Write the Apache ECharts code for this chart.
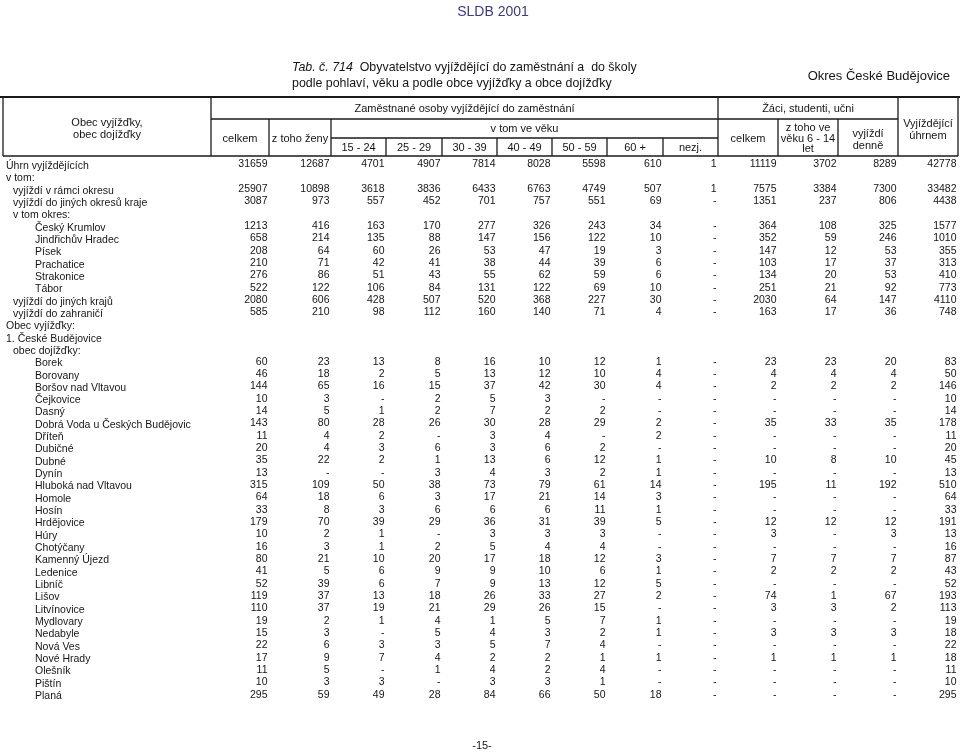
<!DOCTYPE html>
<html><head><meta charset="utf-8">
<script src="https://cdn.jsdelivr.net/npm/echarts@6/dist/echarts.min.js"></script>
<style>html,body{margin:0;padding:0;background:#fff}#c{width:960px;height:753px}</style>
</head><body><div id="c"></div>
<script>
// ---------------- DATA ----------------
const rowLabels = [
  'Úhrn vyjíždějících','v tom:','vyjíždí v rámci okresu','vyjíždí do jiných okresů kraje','v tom okres:',
  'Český Krumlov','Jindřichův Hradec','Písek','Prachatice','Strakonice','Tábor',
  'vyjíždí do jiných krajů','vyjíždí do zahraničí','Obec vyjížďky:','1. České Budějovice','obec dojížďky:',
  'Borek','Borovany','Boršov nad Vltavou','Čejkovice','Dasný','Dobrá Voda u Českých Budějovic','Dříteň',
  'Dubičné','Dubné','Dynín','Hluboká nad Vltavou','Homole','Hosín','Hrdějovice','Húry','Chotýčany',
  'Kamenný Újezd','Ledenice','Libníč','Lišov','Litvínovice','Mydlovary','Nedabyle','Nová Ves',
  'Nové Hrady','Olešník','Pištín','Planá'
];
const rowLevels = [0,0,1,1,1,2,2,2,2,2,2,1,1,0,0,1,2,2,2,2,2,2,2,2,2,2,2,2,2,2,2,2,2,2,2,2,2,2,2,2,2,2,2,2];

const celkem   = [31659,null,25907,3087,null,1213,658,208,210,276,522,2080,585,null,null,null,60,46,144,10,14,143,11,20,35,13,315,64,33,179,10,16,80,41,52,119,110,19,15,22,17,11,10,295];
const zTohoZeny= [12687,null,10898,973,null,416,214,64,71,86,122,606,210,null,null,null,23,18,65,3,5,80,4,4,22,0,109,18,8,70,2,3,21,5,39,37,37,2,3,6,9,5,3,59];
const vek15_24 = [4701,null,3618,557,null,163,135,60,42,51,106,428,98,null,null,null,13,2,16,0,1,28,2,3,2,0,50,6,3,39,1,1,10,6,6,13,19,1,0,3,7,0,3,49];
const vek25_29 = [4907,null,3836,452,null,170,88,26,41,43,84,507,112,null,null,null,8,5,15,2,2,26,0,6,1,3,38,3,6,29,0,2,20,9,7,18,21,4,5,3,4,1,0,28];
const vek30_39 = [7814,null,6433,701,null,277,147,53,38,55,131,520,160,null,null,null,16,13,37,5,7,30,3,3,13,4,73,17,6,36,3,5,17,9,9,26,29,1,4,5,2,4,3,84];
const vek40_49 = [8028,null,6763,757,null,326,156,47,44,62,122,368,140,null,null,null,10,12,42,3,2,28,4,6,6,3,79,21,6,31,3,4,18,10,13,33,26,5,3,7,2,2,3,66];
const vek50_59 = [5598,null,4749,551,null,243,122,19,39,59,69,227,71,null,null,null,12,10,30,0,2,29,0,2,12,2,61,14,11,39,3,4,12,6,12,27,15,7,2,4,1,4,1,50];
const vek60plus= [610,null,507,69,null,34,10,3,6,6,10,30,4,null,null,null,1,4,4,0,0,2,2,0,1,1,14,3,1,5,0,0,3,1,5,2,0,1,1,0,1,0,0,18];
const vekNezj  = [1,null,1,0,null,0,0,0,0,0,0,0,0,null,null,null,0,0,0,0,0,0,0,0,0,0,0,0,0,0,0,0,0,0,0,0,0,0,0,0,0,0,0,0];
const zaciCelkem=[11119,null,7575,1351,null,364,352,147,103,134,251,2030,163,null,null,null,23,4,2,0,0,35,0,0,10,0,195,0,0,12,3,0,7,2,0,74,3,0,3,0,1,0,0,0];
const zaci6_14 = [3702,null,3384,237,null,108,59,12,17,20,21,64,17,null,null,null,23,4,2,0,0,33,0,0,8,0,11,0,0,12,0,0,7,2,0,1,3,0,3,0,1,0,0,0];
const zaciDenne= [8289,null,7300,806,null,325,246,53,37,53,92,147,36,null,null,null,20,4,2,0,0,35,0,0,10,0,192,0,0,12,3,0,7,2,0,67,2,0,3,0,1,0,0,0];
const vyjizdejiciUhrnem=[42778,null,33482,4438,null,1577,1010,355,313,410,773,4110,748,null,null,null,83,50,146,10,14,178,11,20,45,13,510,64,33,191,13,16,87,43,52,193,113,19,18,22,18,11,10,295];

const ageGroups = ['15 - 24','25 - 29','30 - 39','40 - 49','50 - 59','60 +','nezj.'];

// ---------------- LAYOUT ----------------
const FONT = '"Liberation Sans", Arial, Helvetica, sans-serif';
const TXT = '#151515';
const LINE = '#1a1a1a';
const colEdges = [3,211,269,331,386,442,497,552,607,663,718,778,838,898,958];
const Y_TOP = 98, Y_R1 = 119, Y_R2 = 138, Y_BOT = 156;

const titleFont = '12.4px ' + FONT;
const titleFontIt = 'italic 12.4px ' + FONT;

const valueColumns = [celkem,zTohoZeny,vek15_24,vek25_29,vek30_39,vek40_49,vek50_59,vek60plus,vekNezj,zaciCelkem,zaci6_14,zaciDenne,vyjizdejiciUhrnem];
const cellData = [];
valueColumns.forEach((col, c) => col.forEach((v, r) => {
  if (v !== null) cellData.push([colEdges[c + 2] - 1.5, r, v]);
}));

// ---------------- HEADER GRAPHICS ----------------
const g = [];
function ln(x1, y1, x2, y2, w) {
  g.push({type:'line', silent:true, shape:{x1, y1, x2, y2}, style:{stroke:LINE, lineWidth:w || 1.3}});
}
function tx(text, x, y, font, align) {
  g.push({type:'text', silent:true, x, y, style:{text, font: font || ('11px ' + FONT), fill:TXT,
    textAlign: align || 'center', textVerticalAlign:'middle'}});
}
ln(0, 97, 960, 97, 2);
ln(3, Y_TOP, 3, Y_BOT); ln(958, Y_TOP, 958, Y_BOT);
ln(3, Y_BOT, 958, Y_BOT);
[211, 718, 898].forEach(x => ln(x, Y_TOP, x, Y_BOT));
ln(211, Y_R1, 898, Y_R1);
[269, 331, 778, 838].forEach(x => ln(x, Y_R1, x, Y_BOT));
ln(331, Y_R2, 718, Y_R2);
for (let i = 4; i <= 9; i++) ln(colEdges[i], Y_R2, colEdges[i], Y_BOT);

const mid = (a, b) => (colEdges[a] + colEdges[b]) / 2;
tx('Obec vyjížďky,', mid(0,1), 123);
tx('obec dojížďky', mid(0,1), 135);
tx('Zaměstnané osoby vyjíždějící do zaměstnání', mid(1,10), 109);
tx('celkem', mid(1,2), 139);
tx('z toho ženy', mid(2,3), 139);
tx('v tom ve věku', mid(3,10), 129);
ageGroups.forEach((a, i) => tx(a, mid(3+i, 4+i), 148));
tx('Žáci, studenti, učni', mid(10,13), 109);
tx('celkem', mid(10,11), 139);
tx('z toho ve', mid(11,12), 128);
tx('věku 6 - 14', mid(11,12), 138.5);
tx('let', mid(11,12), 149);
tx('vyjíždí', mid(12,13), 134);
tx('denně', mid(12,13), 146);
tx('Vyjíždějící', mid(13,14), 123.5);
tx('úhrnem', mid(13,14), 135.5);

// title block
g.push({type:'text', silent:true, x:493, y:12, style:{text:'SLDB 2001', font:'14px ' + FONT, fill:'#3b3b86', textAlign:'center', textVerticalAlign:'middle'}});
g.push({type:'text', silent:true, x:292, y:68, style:{
  text:'{i|Tab. č. 714}  Obyvatelstvo vyjíždějící do zaměstnání a  do školy',
  font:titleFont, fill:TXT, textAlign:'left', textVerticalAlign:'middle',
  rich:{i:{font:titleFontIt, fill:TXT}}}});
tx('podle pohlaví, věku a podle obce vyjížďky a obce dojížďky', 292, 84, titleFont, 'left');
tx('Okres České Budějovice', 950, 76, '13px ' + FONT, 'right');
tx('-15-', 482, 746, '11px ' + FONT);

// ---------------- CHART ----------------
const ROW_H = 12.33;
const chart = echarts.init(document.getElementById('c'), null, {renderer:'canvas'});
chart.setOption({
  animation:false,
  backgroundColor:'#fff',
  grid:{left:0, right:0, top:166 - ROW_H/2, height:ROW_H * rowLabels.length},
  xAxis:{type:'value', min:0, max:960, show:false},
  yAxis:{
    type:'category', inverse:true, data:rowLabels,
    axisLine:{show:false}, axisTick:{show:false}, splitLine:{show:false},
    axisLabel:{
      interval:0, align:'left', margin:-6, color:TXT, fontSize:10.5, fontFamily:FONT,
      formatter:(v, i) => '{l' + rowLevels[i] + '|' + v + '}',
      rich:{
        l0:{fontSize:10.5, fontFamily:FONT, color:TXT},
        l1:{fontSize:10.5, fontFamily:FONT, color:TXT, padding:[0,0,0,7]},
        l2:{fontSize:10.5, fontFamily:FONT, color:TXT, padding:[0,0,0,29]}
      }
    }
  },
  graphic:{elements:g},
  series:[{
    type:'custom',
    silent:true,
    encode:{x:0, y:1},
    data:cellData,
    renderItem:(params, api) => {
      const p = api.coord([api.value(0), api.value(1)]);
      const v = api.value(2);
      return {type:'text', x:p[0], y:p[1] - 1.5, style:{
        text: v === 0 ? '-' : String(v),
        font:'10.5px ' + FONT, fill:TXT, textAlign:'right', textVerticalAlign:'middle'}};
    }
  }]
});
</script></body></html>
